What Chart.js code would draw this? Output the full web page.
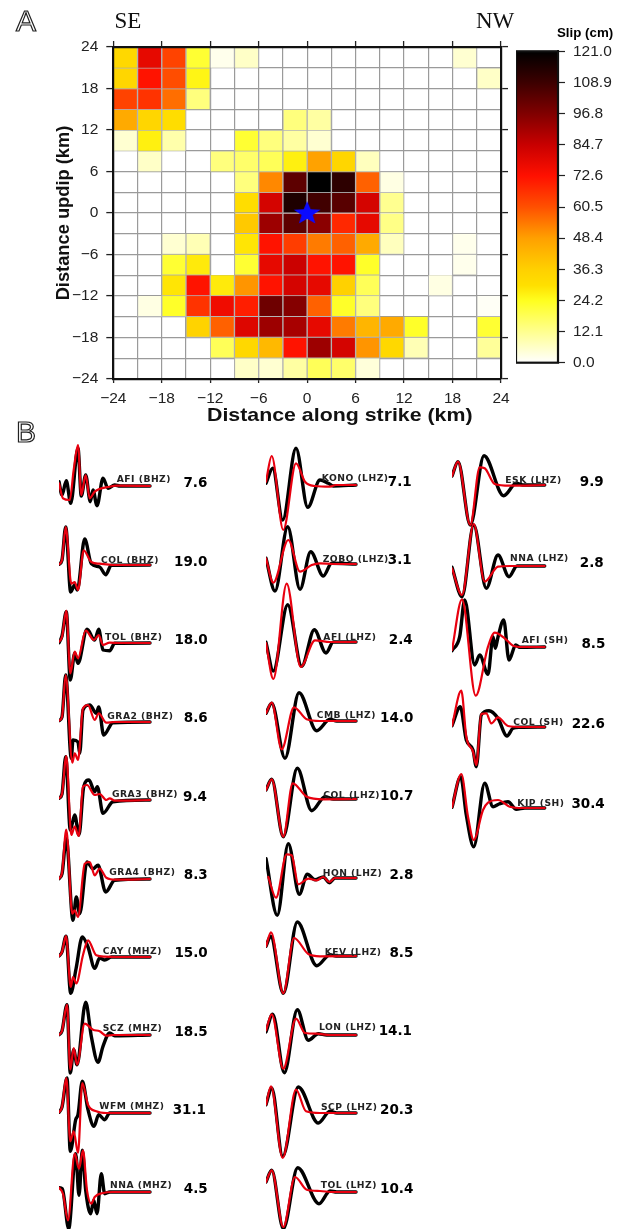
<!DOCTYPE html>
<html>
<head>
<meta charset="utf-8">
<title>Slip model and waveform fits</title>
<script src="https://cdn.jsdelivr.net/npm/chart.js@4"></script>
<style>
  html, body { margin: 0; background: #fff; }
  #page { position: relative; width: 628px; height: 1229px; overflow: hidden; }
  #page canvas { position: absolute; }
  .txt { position: absolute; line-height: 1; white-space: nowrap; transform: translateY(-50%); color: #000; z-index: 5; }
  .panel { font: 30px "Liberation Sans", sans-serif; color: #fff; -webkit-text-stroke: 1.2px #222; }
  .side { font: 23px "Liberation Serif", serif; color: #111; }
  .unit { font: bold 13.3px "Liberation Sans", sans-serif; }
  .strike { font: bold 18.4px "Liberation Sans", sans-serif; color: #111; transform-origin: left center; transform: translateY(-50%) scaleX(1.16); }
  .station { font: bold 9.2px "DejaVu Sans", sans-serif; letter-spacing: .5px; color: #222; }
  .misfit { font: bold 13.5px "DejaVu Sans", sans-serif; }
</style>
</head>
<body>
<div id="page"></div>
<script>
// ---------- Panel A data ----------
const strikeCentres = [-22.5, -19.5, -16.5, -13.5, -10.5, -7.5, -4.5, -1.5, 1.5, 4.5, 7.5, 10.5, 13.5, 16.5, 19.5, 22.5];
const dipBottoms = [21, 18, 15, 12, 9, 6, 3, 0, -3, -6, -9, -12, -15, -18, -21, -24];
const hypocentre = [{ x: 0, y: 0 }];

// slip in cm, one row per dip cell, top row first
const slipRows = [
  [33, 78, 63, 22, 2, 6, 0, 0, 0, 0, 0, 0, 0, 0, 5, 0],
  [34, 72, 61, 26, 0, 0, 0, 0, 0, 0, 0, 0, 0, 0, 0, 6],
  [63, 66, 56, 14, 0, 0, 0, 0, 0, 0, 0, 0, 0, 0, 0, 0],
  [46, 34, 31, 0, 0, 0, 0, 14, 10, 0, 0, 0, 0, 0, 0, 0],
  [5, 27, 9, 0, 0, 22, 14, 10, 5, 0, 0, 0, 0, 0, 0, 0],
  [0, 6, 0, 0, 14, 16, 18, 27, 48, 34, 7, 0, 0, 0, 0, 0],
  [0, 0, 0, 0, 0, 14, 52, 103, 121, 112, 58, 3, 0, 0, 0, 0],
  [0, 0, 0, 0, 0, 31, 82, 115, 108, 104, 82, 12, 0, 0, 0, 0],
  [0, 0, 0, 0, 0, 38, 92, 103, 95, 68, 78, 13, 0, 0, 0, 0],
  [0, 0, 5, 8, 0, 29, 72, 64, 54, 58, 46, 7, 0, 0, 2, 0],
  [0, 0, 22, 28, 0, 22, 78, 84, 72, 72, 23, 0, 0, 0, 2, 0],
  [0, 0, 29, 72, 28, 50, 72, 82, 78, 36, 18, 0, 0, 3, 0, 0],
  [0, 3, 23, 66, 76, 70, 100, 96, 58, 23, 14, 0, 0, 0, 0, 1],
  [0, 0, 0, 35, 58, 80, 92, 90, 78, 54, 43, 46, 23, 0, 0, 22],
  [0, 0, 0, 0, 18, 33, 42, 72, 92, 82, 50, 33, 8, 0, 0, 11],
  [0, 0, 0, 0, 0, 6, 5, 10, 18, 16, 4, 0, 0, 0, 0, 0]
];

const slipMax = 121;
const colourbarTicks = [0, 12.1, 24.2, 36.3, 48.4, 60.5, 72.6, 84.7, 96.8, 108.9, 121];
const colourLevels = [0, 24, 30, 36.3, 48.4, 60.5, 72.6, 84.7, 96.8, 108.9, 121];
const colourValues = [[255, 255, 255], [255, 255, 32], [255, 224, 0], [255, 208, 0], [255, 160, 0], [255, 80, 0], [255, 16, 0], [200, 0, 0], [128, 0, 0], [60, 0, 0], [0, 0, 0]];

// ---------- Panel B data: [time, amplitude] picks of each trace ----------
const stations = ['AFI (BHZ)', 'COL (BHZ)', 'TOL (BHZ)', 'GRA2 (BHZ)', 'GRA3 (BHZ)', 'GRA4 (BHZ)', 'CAY (MHZ)', 'SCZ (MHZ)', 'WFM (MHZ)', 'NNA (MHZ)',
  'KONO (LHZ)', 'ZOBO (LHZ)', 'AFI (LHZ)', 'CMB (LHZ)', 'COL (LHZ)', 'HON (LHZ)', 'KEV (LHZ)', 'LON (LHZ)', 'SCP (LHZ)', 'TOL (LHZ)',
  'ESK (LHZ)', 'NNA (LHZ)', 'AFI (SH)', 'COL (SH)', 'KIP (SH)'];
const misfits = [7.6, 19.0, 18.0, 8.6, 9.4, 8.3, 15.0, 18.5, 31.1, 4.5,
  7.1, 3.1, 2.4, 14.0, 10.7, 2.8, 8.5, 14.1, 20.3, 10.4,
  9.9, 2.8, 8.5, 22.6, 30.4];

const observed = [
  [[0,4.3],[3,-9],[7.3,5.3],[11.7,-17.3],[19,37.7],[22.3,-10],[26.7,11],[31.3,-15.7],[34,-4],[38,-19.7],[44,7.7],[49,-2.3],[55.7,1],[61,0],[91,0]],
  [[0,.7],[3,5],[6.7,38],[11.7,-27],[15.7,-20],[18.3,-25],[25.7,26],[32.3,1.3],[40.7,-2],[46.7,-9.7],[52.3,-.3],[91,0]],
  [[0,.3],[3,7],[7.3,31.3],[11.3,-37],[15.7,-10.3],[19,-20.3],[28,13.7],[35.7,3],[39.7,13.7],[44,-7],[50.7,-7.7],[55.7,-.3],[91,0]],
  [[0,1.3],[3,5],[6.7,47],[12.3,-36.3],[14,-18],[19,-20],[20.7,-31.3],[24,12],[30.7,17],[37.3,8.7],[39.7,15],[44.7,-13],[54,-.7],[91,0]],
  [[0,1.7],[3,6],[6.7,43.3],[11.3,-30],[15.7,-15],[20,-35],[24.7,13.3],[30,20],[35.7,8.3],[38.3,13.3],[44,-13.3],[54,-1.7],[91,0]],
  [[0,.3],[3,5],[7.3,40.3],[14,-41.3],[17.3,-18],[20.7,-34.7],[28,17],[34,10.3],[39,13.7],[46.7,-13],[55.7,-1.3],[91,0]],
  [[0,1],[3,5],[7,20.7],[11.7,-36.3],[17,-12],[23.3,20],[29,10],[35.7,-11.3],[40.7,-1],[45.7,-3],[52.3,0],[91,0]],
  [[0,.3],[3,4],[8,30.3],[11.3,-38],[14.7,-14.7],[18,-29.7],[26.7,32.7],[32.3,-1.3],[39,-27.3],[44,-11.3],[50.7,2],[55.7,-.7],[91,0]],
  [[0,.7],[3,6],[8,35],[11.3,-38.3],[16.7,-6.7],[19,-1.7],[23.3,31.7],[29,3.3],[35,-13.3],[39.7,-1.7],[45.7,-6.7],[50.7,0],[91,0]],
  [[0,4.3],[3.3,3.3],[9.7,-36.7],[16.7,38.3],[20,-3.3],[23.3,41.7],[26.7,1.7],[31.7,-21.7],[34.7,-8.3],[38,-21.7],[42.3,18.3],[45.7,-1.7],[50.7,0],[91,0]],
  [[0,1.7],[6.7,16.7],[16.7,-35],[30,36.7],[41.7,-22.3],[54,5],[62.3,1.7],[67.3,-1],[90,0]],
  [[0,5.7],[9,-27],[21.7,37.3],[34,-25.3],[44.7,12.3],[57.3,-12],[65.7,.7],[90,0]],
  [[0,-.3],[7.3,-29],[21.7,37.3],[35.7,-24.3],[48.3,12.3],[60,-11],[67.3,0],[90,0]],
  [[0,7.7],[5.7,17.7],[19,-37.3],[33,28.3],[50.7,-9.7],[64,1.7],[70.7,0],[90,0]],
  [[0,9],[5.7,19.7],[17.3,-37.7],[31.3,30.7],[45.7,-11.7],[59,2.3],[67.3,0],[90,0]],
  [[0,19.3],[11.3,-37.3],[22.3,34.3],[33.3,-16.3],[41.3,3.7],[49,-1.7],[57.3,1],[63.3,-4.7],[69,0],[90,0]],
  [[0,9.7],[4.7,19.7],[17.3,-37.3],[31.3,34],[50.7,-9.7],[64,1.3],[70,0],[90,0]],
  [[0,3],[6.7,20.7],[18.3,-37.7],[31.3,25.3],[42.3,-5.3],[52.3,1.3],[60.7,0],[90,0]],
  [[0,8.3],[5.7,25],[16.7,-43.3],[32.3,26],[52.3,-10],[64,1.7],[70.7,0],[90,0]],
  [[0,10],[5.7,21.7],[17.3,-36.7],[31.7,24.3],[53,-11.7],[64,1],[70.7,0],[90,0]],
  [[0,9],[6,23.3],[18.3,-40],[32,29.3],[51.7,-10.7],[64.3,1.7],[71,0],[92.7,0]],
  [[0,-1.3],[10,-30.7],[21.7,41],[34.3,-22.3],[46,11],[57,-10.7],[65,0],[92.7,0]],
  [[0,-3.7],[7.7,10.3],[12.7,47],[22.7,-18],[27.7,-8],[36,-27.3],[41,10.3],[43.3,-1.3],[46,10],[51.7,27],[57,-13],[63.7,2],[67.7,-.3],[92.7,0]],
  [[0,1.3],[8.3,20.3],[14.3,-13],[21,-23],[24.3,-39.7],[29.3,12],[37,16.3],[46,8.7],[55,-9],[61,-1.3],[67.7,-.3],[92.7,0]],
  [[0,.7],[8.7,31.3],[14.3,-7],[21.7,-38.7],[32.7,24.7],[41,1.3],[47,4],[56,6.3],[64.3,-1.3],[72.7,0],[92.7,0]]
];

const synthetic = [
  [[0,2.7],[4,-12.3],[10.7,-14],[14.7,16],[19,41],[22.3,-9],[26.7,11],[30.7,-12.3],[35.7,-5.7],[50.7,-.7],[57.3,.3],[91,0]],
  [[0,.7],[3,5],[6.7,38],[12.3,-18.7],[15.7,-17],[19,-25],[24.7,14.7],[32.3,3],[40.7,1.3],[54,0],[91,0]],
  [[0,1.3],[3,6],[7.3,32.3],[11.3,-30.3],[15.7,-8.7],[19,-15.3],[26.7,12.3],[35,3],[39.7,8],[44,-2],[50.7,.3],[60,0],[91,0]],
  [[0,1.3],[3,5],[6.7,47],[13.3,-40.7],[15.7,-31.3],[19,-38],[24,13.7],[29,17],[35.7,2],[39.7,8.7],[47.3,-.7],[55,0],[91,0]],
  [[0,1.7],[3,6],[7.3,44],[12.3,-35],[15.7,-26.7],[19.7,-36],[24,13.3],[28,15],[35.7,5],[40.7,6],[47.3,0],[50.7,1.7],[55.7,-.7],[91,0]],
  [[0,.3],[3,6],[7.3,49.3],[13.3,-34.7],[15.7,-31.3],[19,-38],[25.7,15.3],[30.7,17],[35.7,3.7],[40.7,10.3],[47.3,1.3],[57.3,-.7],[91,0]],
  [[0,1],[3,5],[7,21],[11.7,-30],[14,-20],[17.3,-26.3],[24,2],[29,16.7],[37.3,1.7],[46,.3],[57,0],[91,0]],
  [[0,.3],[3,4],[8,30.3],[11.3,-34.7],[14.7,-13],[18,-29.7],[25.7,11.3],[34,5.3],[40.7,3.7],[47.3,-.7],[54,0],[91,0]],
  [[0,.7],[3,6],[7.3,35],[11.3,-28.3],[14.7,-18.3],[19,-40],[23.3,30],[29,8.3],[37.3,1.7],[47.3,0],[91,0]],
  [[0,4.3],[4,-1.7],[9,-28.3],[15.7,38.3],[20,23.3],[24,41.7],[28,1.7],[32.3,-11.7],[35.7,-5],[44,-1],[54,0],[91,0]],
  [[0,3.3],[5.7,29],[17.3,-45],[30,21.7],[39,3.3],[49,-1],[64,-1.7],[70,0],[90,0]],
  [[0,5.7],[7.3,-18.7],[22.3,24],[34,-7.7],[45.7,-1],[54,.7],[67.3,0],[90,0]],
  [[0,-1],[7.3,-37],[20.7,58.3],[34.7,-25],[49,1.7],[64,0],[90,0]],
  [[0,7.7],[5.7,18.3],[15.7,-28.3],[28,13.7],[40.7,1.7],[54,0],[90,0]],
  [[0,9],[5.7,19.7],[17.3,-37.7],[26.7,15.7],[40.7,2.3],[57.3,-.3],[90,0]],
  [[2.3,1],[10,-19.7],[20.7,23.7],[25.7,22.7],[32.3,-6.3],[42.3,-.7],[50.7,-2.3],[57.3,1],[63.3,-4],[69,0],[90,0]],
  [[0,9.7],[5,23.7],[17.3,-37.3],[28,18],[42.3,2],[54,-.3],[90,0]],
  [[0,4.7],[5.7,20.7],[17.3,-33.7],[30,16.3],[39,2],[50.7,1.3],[64,0],[90,0]],
  [[0,8.3],[5,26.7],[16.7,-45],[30,23.3],[40,1.7],[54,0],[90,0]],
  [[0,10],[5.7,21.7],[17.3,-35],[29,15],[40.7,2.3],[54,1],[67.3,0],[90,0]],
  [[0,9],[6,23.3],[18.3,-40],[27.7,17.7],[32.7,16.7],[42.7,1],[57.7,-.7],[92.7,0]],
  [[0,-2.3],[10,-29],[21.7,42],[32.7,-15.7],[46,-.7],[57.7,0],[92.7,0]],
  [[0,-3],[10,47.7],[23.7,-48.7],[36,.3],[42.7,14.3],[52.7,8.7],[61,1.3],[71,0],[92.7,0]],
  [[0,1.3],[9.3,36.3],[14.3,-9.7],[21,-24.7],[24.3,-38],[29.3,13],[34.3,13.7],[39.3,3.7],[46,9.7],[56,1],[71,0],[92.7,0]],
  [[0,.7],[9.3,34],[16,-8.7],[21.7,-32],[31,-2],[36,5.3],[46,8],[57.7,1.3],[71,0],[92.7,0]]
];

// ---------- Layout (page pixels) ----------
const traceLeft = [59.3, 59.3, 59.3, 59.3, 59.3, 59.3, 59.3, 59.3, 59.3, 59.3,
  266, 266, 266, 266, 266, 266, 266, 266, 266, 266,
  452.3, 452.3, 452.3, 452.3, 452.3];
const traceBase = [486, 564.7, 643, 722, 800, 878.7, 956.7, 1035, 1113, 1191.7,
  485, 564, 642.3, 721, 799, 877.7, 956.3, 1034.7, 1113.3, 1191.7,
  485, 566, 647, 727, 808];
const nameLeft = [116.7, 101, 105, 107.3, 112, 109.3, 102.7, 102.7, 99.3, 110,
  321.7, 322.7, 323.3, 316.7, 323.3, 322.7, 324.7, 319, 321, 320.7,
  505.3, 510, 521.7, 513.3, 517.3];
const nameMid = [478, 558.7, 636, 715, 792.7, 871, 950, 1027, 1105.3, 1184,
  477.3, 558.3, 636, 714, 793.7, 871.7, 950.7, 1026.3, 1106, 1183.7,
  479.3, 557.3, 639, 721, 802];
const misfitRight = [207.3, 207.3, 207.7, 207.7, 207, 207.7, 207.7, 207.7, 206, 207.7,
  411.7, 411.7, 412.7, 413.3, 413.3, 413.3, 413.3, 412, 413.3, 413.3,
  603.7, 603.7, 605.3, 605, 604.7];
const misfitMid = [482, 560.7, 639, 717.3, 795.7, 874, 952.3, 1031, 1109.3, 1188,
  481, 559.3, 638.7, 716.7, 795.3, 874, 952.3, 1030.3, 1109, 1187.7,
  481, 562, 642.7, 723.3, 803.3];

const page = document.getElementById('page');
const PAGE_W = 628;

const addText = (text, cls, pos) => {
  const el = document.createElement('div');
  el.className = 'txt ' + cls;
  el.textContent = text;
  el.style.top = pos.y + 'px';
  if (pos.left !== undefined) el.style.left = pos.left + 'px';
  if (pos.right !== undefined) el.style.right = (PAGE_W - pos.right) + 'px';
  page.appendChild(el);
};

const addCanvas = (left, top, width, height) => {
  const c = document.createElement('canvas');
  c.width = width;
  c.height = height;
  c.style.left = left + 'px';
  c.style.top = top + 'px';
  page.appendChild(c);
  return c;
};

// Colour helpers
const colourAt = (v) => {
  let i = 0;
  while (i < colourLevels.length - 2 && v > colourLevels[i + 1]) i++;
  const f = (v - colourLevels[i]) / (colourLevels[i + 1] - colourLevels[i]);
  const mix = colourValues[i].map((c, k) => Math.round(c + (colourValues[i + 1][k] - c) * f));
  return `rgb(${mix[0]},${mix[1]},${mix[2]})`;
};

// five pointed star, the built-in 'star' style is only an asterisk
const makeStar = () => {
  const c = document.createElement('canvas');
  c.width = 28;
  c.height = 24;
  const g = c.getContext('2d');
  g.fillStyle = '#0a0aff';
  g.beginPath();
  for (let i = 0; i < 10; i++) {
    const r = i % 2 ? 0.42 : 1;
    const a = -Math.PI / 2 + i * Math.PI / 5;
    g.lineTo(14 + 14 * r * Math.cos(a), 12.5 + 12.5 * r * Math.sin(a));
  }
  g.closePath();
  g.fill();
  return c;
};

// ---------- Panel A ----------
const tickFont = { family: 'Liberation Sans', size: 15.5 };
const titleFont = { family: 'Liberation Sans', size: 18.3, weight: 'bold' };
const fmtTick = (v) => (v % 6 === 0 ? String(v).replace('-', '\u2212') : '');
const tickMark = (c) => (c.tick && c.tick.value % 6 === 0 ? '#222' : 'transparent');
const gridStyle = { color: '#9a9a9a', lineWidth: 1.2, tickColor: tickMark, tickWidth: 1.3, tickLength: 7 };
const frame = { display: true, color: '#111', width: 2.2, z: 2 };

const slipDatasets = slipRows.map((row, r) => ({
  type: 'bar',
  grouped: false,
  barPercentage: 1,
  categoryPercentage: 1,
  order: 2,
  data: row.map((_, i) => ({ x: strikeCentres[i], y: [dipBottoms[r], dipBottoms[r] + 3] })),
  backgroundColor: row.map((v) => (v > 0 ? colourAt(v) : 'rgba(0,0,0,0)')),
  borderColor: row.map((v) => (v > 0 ? '#b4b4b4' : 'rgba(0,0,0,0)')),
  borderWidth: 1
}));

// canvas runs past the frame so the last x label does not squeeze the plot
new Chart(addCanvas(0, 0, 545, 430), {
  data: {
    datasets: [
      { type: 'scatter', order: 1, data: hypocentre, pointStyle: makeStar(), pointRadius: 12 },
      ...slipDatasets
    ]
  },
  options: {
    responsive: false,
    animation: false,
    events: [],
    layout: { padding: 0 },
    plugins: { legend: { display: false }, tooltip: { enabled: false } },
    scales: {
      x: {
        type: 'linear', position: 'bottom', min: -24, max: 24, offset: false,
        afterFit: (s) => { s.height = 51; },
        grid: { ...gridStyle, offset: false, tickLength: 4 },
        border: frame,
        ticks: { stepSize: 3, autoSkip: false, maxRotation: 0, callback: fmtTick, font: tickFont, color: '#222', padding: 6 }
      },
      y: {
        type: 'linear', position: 'left', min: -24, max: 24,
        afterFit: (s) => { s.width = 113.3; },
        grid: gridStyle,
        border: frame,
        ticks: { stepSize: 3, autoSkip: false, callback: fmtTick, font: tickFont, color: '#222', padding: 8 },
        title: { display: true, text: 'Distance updip (km)', font: titleFont, color: '#111', padding: { top: 53, bottom: 0 } }
      },
      xTop: {
        type: 'linear', position: 'top', min: -24, max: 24,
        afterFit: (s) => { s.height = 47; },
        grid: { ...gridStyle, drawOnChartArea: false, tickLength: 6 },
        border: frame,
        ticks: { stepSize: 3, autoSkip: false, callback: () => '', font: { size: 1 } }
      },
      yRight: {
        type: 'linear', position: 'right', min: -24, max: 24,
        afterFit: (s) => { s.width = 44; },
        grid: { ...gridStyle, drawOnChartArea: false, tickLength: 7 },
        border: frame,
        ticks: { stepSize: 3, autoSkip: false, callback: () => '', font: { size: 1 } }
      }
    }
  }
});

// Colour bar: one floating bar on the slip scale with the palette as gradient
new Chart(addCanvas(516, 34, 112, 346), {
  type: 'bar',
  data: {
    labels: ['slip'],
    datasets: [{
      data: [[0, slipMax]],
      barPercentage: 1,
      categoryPercentage: 1,
      borderWidth: 0,
      backgroundColor: (c) => {
        const area = c.chart.chartArea;
        if (!area) return '#fff';
        const grad = c.chart.ctx.createLinearGradient(0, area.bottom, 0, area.top);
        colourLevels.forEach((lv, i) => grad.addColorStop(lv / slipMax, `rgb(${colourValues[i].join(',')})`));
        return grad;
      }
    }]
  },
  options: {
    responsive: false,
    animation: false,
    events: [],
    layout: { padding: 0 },
    plugins: { legend: { display: false }, tooltip: { enabled: false } },
    scales: {
      x: { display: false },
      y: {
        position: 'right', min: 0, max: slipMax,
        afterFit: (s) => { s.width = 70; },
        afterBuildTicks: (s) => { s.ticks = colourbarTicks.map((v) => ({ value: v })); },
        grid: { drawOnChartArea: false, color: '#222', tickLength: 7, tickWidth: 1.2 },
        border: { display: true, color: '#111', width: 2 },
        ticks: { autoSkip: false, callback: (v) => v.toFixed(1), font: tickFont, color: '#222', padding: 8 }
      }
    }
  },
  plugins: [{
    id: 'barFrame',
    afterDraw: (chart) => {
      const a = chart.chartArea;
      const g = chart.ctx;
      g.strokeStyle = '#111';
      g.lineWidth = 2.2;
      g.strokeRect(a.left, a.top, a.right - a.left, a.bottom - a.top);
    }
  }]
});

// ---------- Panel B ----------
const traceUnits = 100;
const traceHalf = 62;

stations.forEach((name, i) => {
  const canvas = addCanvas(traceLeft[i], traceBase[i] - traceHalf, traceUnits, traceHalf * 2);
  new Chart(canvas, {
    type: 'scatter',
    data: {
      datasets: [
        { data: synthetic[i], order: 1, borderColor: '#e8000f', borderWidth: 2.2 },
        { data: observed[i], order: 2, borderColor: '#000', borderWidth: 3.4 }
      ].map((d) => ({ ...d, showLine: true, pointRadius: 0, cubicInterpolationMode: 'monotone', borderJoinStyle: 'round', borderCapStyle: 'round' }))
    },
    options: {
      responsive: false,
      animation: false,
      events: [],
      layout: { padding: 0 },
      plugins: { legend: { display: false }, tooltip: { enabled: false } },
      scales: {
        x: { type: 'linear', display: false, min: 0, max: traceUnits },
        y: { type: 'linear', display: false, min: -traceHalf, max: traceHalf }
      }
    }
  });
  addText(name, 'station', { left: nameLeft[i], y: nameMid[i] });
  addText(misfits[i].toFixed(1), 'misfit', { right: misfitRight[i], y: misfitMid[i] });
});

// ---------- Free text ----------
addText('A', 'panel', { left: 16, y: 21 });
addText('B', 'panel', { left: 16, y: 432 });
addText('SE', 'side', { left: 114.5, y: 21 });
addText('NW', 'side', { left: 476, y: 21 });
addText('Slip (cm)', 'unit', { left: 557, y: 32 });
addText('Distance along strike (km)', 'strike', { left: 207, y: 415 });
</script>
</body>
</html>
